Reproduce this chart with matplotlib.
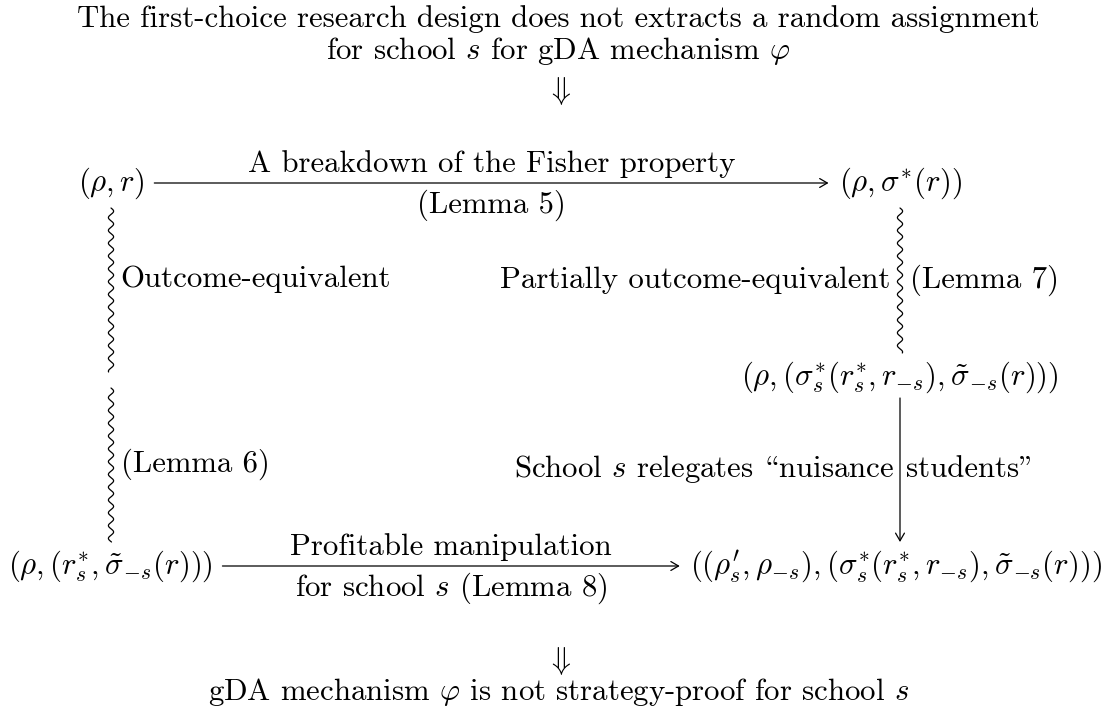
import numpy as np
import matplotlib.pyplot as plt
from matplotlib.patches import FancyArrowPatch

plt.rcParams["font.family"] = ["cmr10", "DejaVu Serif"]
plt.rcParams["mathtext.fontset"] = "cm"
plt.rcParams["axes.unicode_minus"] = False

# diagram content
header_lines = [
    "The first-choice research design does not extracts a random assignment",
    r"for school $s$ for gDA mechanism $\varphi$",
]
footer_line = r"gDA mechanism $\varphi$ is not strategy-proof for school $s$"

node_keys = ["tl", "tr", "mr", "bl", "br"]
node_labels = [
    r"$(\rho, r)$",
    r"$(\rho, \sigma^{*}(r))$",
    r"$(\rho, (\sigma_s^{*}(r_s^{*}, r_{-s}), \tilde{\sigma}_{-s}(r)))$",
    r"$(\rho, (r_s^{*}, \tilde{\sigma}_{-s}(r)))$",
    r"$((\rho_s^{\prime}, \rho_{-s}), (\sigma_s^{*}(r_s^{*}, r_{-s}), \tilde{\sigma}_{-s}(r)))$",
]

# edges: source, target, kind, label one side, label other side
# (cmr10 keeps TeX's layout: "\" is the opening and '"' the closing double quote)
edge_src = ["tl", "tl", "ml", "tr", "mr", "bl"]
edge_dst = ["tr", "ml", "bl", "mr", "br", "br"]
edge_kind = ["arrow", "squig", "squig", "squig", "arrow", "arrow"]
edge_label_a = ["A breakdown of the Fisher property", "", "",
                "Partially outcome-equivalent", "School $s$ relegates \\nuisance",
                "Profitable manipulation"]
edge_label_b = ["(Lemma 5)", "Outcome-equivalent", "(Lemma 6)",
                "(Lemma 7)", 'students"', "for school $s$ (Lemma 8)"]

# layout (pixels, y downwards)
W, H = 1117, 717
FS = 22.2
node_pos = {"tl": (111, 183), "tr": (900, 183), "mr": (900, 377),
            "bl": (110, 566), "br": (896, 566), "ml": (111, 380)}
AXIS = 7.6  # baseline offset below math axis

fig = plt.figure(figsize=(W / 100, H / 100), dpi=100)
ax = fig.add_axes([0, 0, 1, 1])
ax.set_xlim(0, W)
ax.set_ylim(H, 0)
ax.axis("off")

ax.text(W / 2, 27, header_lines[0], ha="center", va="baseline", fontsize=FS)
ax.text(W / 2, 59, header_lines[1], ha="center", va="baseline", fontsize=FS)
ax.text(W / 2, 91, r"$\Downarrow$", ha="center", va="center", fontsize=FS)
ax.text(W / 2, 661, r"$\Downarrow$", ha="center", va="center", fontsize=FS)
ax.text(W / 2, 700, footer_line, ha="center", va="baseline", fontsize=FS)

fig.canvas.draw()
renderer = fig.canvas.get_renderer()
inv = ax.transData.inverted()

boxes = {}
for key, lab in zip(node_keys, node_labels):
    x, y = node_pos[key]
    t = ax.text(x, y + AXIS, lab, ha="center", va="baseline", fontsize=FS)
    bb = t.get_window_extent(renderer)
    (x0, y1), (x1, y0) = inv.transform([[bb.x0, bb.y0], [bb.x1, bb.y1]])
    boxes[key] = (x0, x1, y0, y1)

LW = 0.9
AMP, PERIOD = 2.6, 12.8


def draw_arrow(p0, p1):
    ax.add_patch(FancyArrowPatch(p0, p1, arrowstyle="->,head_length=5.5,head_width=3.2",
                                 mutation_scale=1, lw=LW, color="black",
                                 shrinkA=0, shrinkB=0))


def draw_squiggle(x, y0, y1):
    yy = np.linspace(y0, y1, 600)
    xx = x + AMP * np.sin(2 * np.pi * (yy - y0) / PERIOD)
    ax.plot(xx, yy, color="black", lw=LW, solid_capstyle="round")


for s, d, kind, la, lb in zip(edge_src, edge_dst, edge_kind, edge_label_a, edge_label_b):
    sx, sy = node_pos[s]
    dx, dy = node_pos[d]
    if abs(sy - dy) < 1:  # horizontal
        x0 = boxes[s][1] + 10
        x1 = boxes[d][0] - 10
        draw_arrow((x0, sy), (x1, sy))
        xm = (x0 + x1) / 2
        ax.text(xm, sy - 11, la, ha="center", va="baseline", fontsize=FS)
        ax.text(xm, sy + 30, lb, ha="center", va="baseline", fontsize=FS)
    else:  # vertical
        if s == "ml":
            y0 = sy + 8
        elif s == "mr":
            y0 = sy + 21
        else:
            y0 = sy + 25
        y1 = dy - 8 if d == "ml" else dy - 24
        if kind == "squig":
            draw_squiggle(sx, y0, y1)
            off = AMP + 7
        else:
            draw_arrow((sx, y0), (sx, y1))
            off = 6
        ym = (y0 + y1) / 2 + 7
        if s == "tl":
            ym = 287
        if la:
            ax.text(sx - off, ym, la, ha="right", va="baseline", fontsize=FS)
        if lb:
            ax.text(sx + off, ym, lb, ha="left", va="baseline", fontsize=FS)

fig.savefig("out.png", dpi=100)
